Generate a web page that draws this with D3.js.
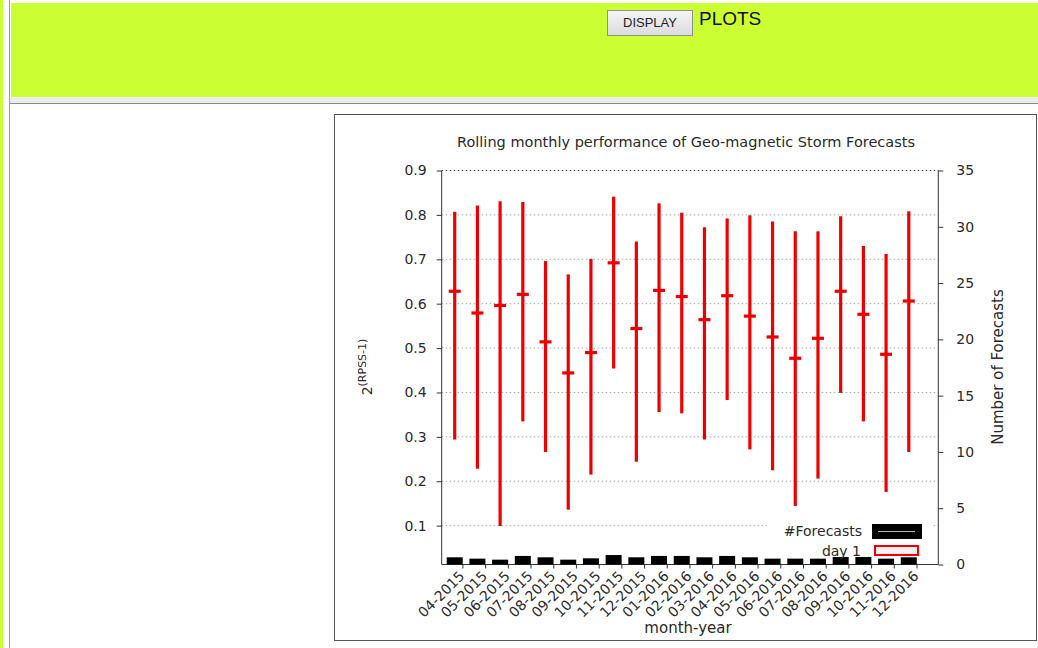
<!DOCTYPE html>
<html>
<head>
<meta charset="utf-8">
<script src="https://cdn.jsdelivr.net/npm/d3@7"></script>
<style>
  html, body { margin: 0; padding: 0; background: #fff; width: 1038px; height: 648px; overflow: hidden; }
  .strip { position: absolute; left: 0; top: 0; width: 3px; height: 648px; background: #ccff33; }
  .vline { position: absolute; left: 9px; top: 0; width: 1px; height: 648px; background: #9a9a9a; }
  .header { position: absolute; left: 11px; top: 3px; width: 1027px; height: 94px; background: #ccff33; }
  .sep { position: absolute; left: 10px; top: 97px; width: 1028px; height: 6px; background: #ececec; border-bottom: 1px solid #8a8a8a; }
  .btn { position: absolute; left: 607px; top: 10px; width: 86px; height: 26px; box-sizing: border-box;
         border: 1px solid #8f8f8f; background: linear-gradient(#f4f4f4, #dcdcdc);
         font-family: "Liberation Sans", Arial, sans-serif; font-size: 13px; color: #222;
         text-align: center; line-height: 24px; }
  .lbl { position: absolute; left: 699px; top: 8px; font-family: "Liberation Sans", Arial, sans-serif;
         font-size: 19px; color: #111; }
  svg { position: absolute; left: 0; top: 0; }
</style>
</head>
<body>
<div class="strip"></div>
<div class="vline"></div>
<div class="header"></div>
<div class="sep"></div>
<div class="btn">DISPLAY</div>
<div class="lbl">PLOTS</div>
<svg id="chart" width="1038" height="648"></svg>
<script>
// Monthly windows
const months = ["04-2015","05-2015","06-2015","07-2015","08-2015","09-2015","10-2015","11-2015","12-2015",
                "01-2016","02-2016","03-2016","04-2016","05-2016","06-2016","07-2016","08-2016","09-2016",
                "10-2016","11-2016","12-2016"];
// day 1 skill: mean with min / max range
const skillMean = [0.628,0.579,0.596,0.621,0.514,0.444,0.490,0.692,0.544,0.630,0.616,
                   0.564,0.618,0.572,0.525,0.477,0.522,0.628,0.576,0.486,0.606];
const skillLow  = [0.294,0.228,0.099,0.335,0.266,0.136,0.215,0.454,0.244,0.356,0.353,
                   0.294,0.383,0.272,0.225,0.144,0.206,0.399,0.335,0.176,0.266];
const skillHigh = [0.807,0.821,0.831,0.829,0.696,0.666,0.701,0.841,0.740,0.826,0.805,
                   0.772,0.792,0.799,0.785,0.763,0.763,0.797,0.730,0.712,0.808];
// number of forecasts (right axis)
const forecasts = [0.64,0.52,0.43,0.76,0.64,0.43,0.55,0.84,0.64,0.76,0.76,
                   0.64,0.76,0.64,0.52,0.52,0.52,0.76,0.76,0.52,0.64];
const leftTicks  = [0.1,0.2,0.3,0.4,0.5,0.6,0.7,0.8,0.9];
const rightTicks = [0,5,10,15,20,25,30,35];

const svg = d3.select("#chart");
const FONT = "'DejaVu Sans', Verdana, sans-serif";
const RED = "#ee0000";
const INK = "#2a2a2a";

// outer frame of the plot image
svg.append("rect").attr("x", 334.5).attr("y", 114.5).attr("width", 702).attr("height", 526)
  .attr("fill", "#fff").attr("stroke", "#555").attr("stroke-width", 1);

const L = 441.7, R = 938.3, T = 170.5, B = 564.5;
const x  = d3.scaleLinear().domain([-0.573, 21.30]).range([L, R]);
const y  = d3.scaleLinear().domain([0.0125, 0.9]).range([B, T]);
const y2 = d3.scaleLinear().domain([0, 35]).range([B, T]);

// title
svg.append("text").attr("x", 686).attr("y", 146.5).attr("text-anchor", "middle")
  .attr("font-family", FONT).attr("font-size", 14.5).attr("fill", INK)
  .text("Rolling monthly performance of Geo-magnetic Storm Forecasts");

// horizontal grid
svg.append("g").selectAll("line").data(leftTicks).join("line")
  .attr("x1", L).attr("x2", R).attr("y1", d => y(d)).attr("y2", d => y(d))
  .attr("stroke", d => d === 0.9 ? "#444" : "#a8a8a8")
  .attr("stroke-width", 1).attr("stroke-dasharray", "1.5,2.5");

// left axis
const gL = svg.append("g").attr("transform", `translate(${L},0)`)
  .call(d3.axisLeft(y).tickValues(leftTicks).tickFormat(d3.format(".1f")).tickSize(5).tickPadding(10));
// right axis
const gR = svg.append("g").attr("transform", `translate(${R},0)`)
  .call(d3.axisRight(y2).tickValues(rightTicks).tickSize(5).tickPadding(13));
// bottom axis: ticks sit just right of each box
const tickPos = months.map((m, i) => i + 0.34);
const gB = svg.append("g").attr("transform", `translate(0,${B})`)
  .call(d3.axisBottom(x).tickValues(tickPos).tickFormat((d, i) => months[i]).tickSize(4).tickPadding(3));

[gL, gR, gB].forEach(g => {
  g.select(".domain").attr("stroke", "#333");
  g.selectAll(".tick line").attr("stroke", "#333");
  g.selectAll("text").attr("font-family", FONT).attr("font-size", 14).attr("fill", INK);
});
gB.select(".domain").attr("d", `M${L},0H${R}`);
gL.select(".domain").attr("d", `M0,${B}V${T}`);
gR.select(".domain").attr("d", `M0,${B}V${T}`);
gB.selectAll("text").attr("text-anchor", "end").attr("dy", "0.35em")
  .attr("transform", "translate(-1,9) rotate(-45)").attr("x", 0).attr("y", 0);

// forecast count boxes
svg.append("g").selectAll("rect").data(forecasts).join("rect")
  .attr("x", (d, i) => x(i) - 8).attr("width", 16)
  .attr("y", d => y2(d)).attr("height", d => y2(0) - y2(d))
  .attr("fill", "#000");

// error bars
const eb = svg.append("g").attr("stroke", RED).attr("stroke-width", 3.2);
eb.selectAll("line.v").data(months).join("line").attr("class", "v")
  .attr("x1", (d, i) => x(i)).attr("x2", (d, i) => x(i))
  .attr("y1", (d, i) => y(skillLow[i])).attr("y2", (d, i) => y(skillHigh[i]));
eb.selectAll("line.m").data(months).join("line").attr("class", "m")
  .attr("x1", (d, i) => x(i) - 6).attr("x2", (d, i) => x(i) + 6)
  .attr("y1", (d, i) => y(skillMean[i])).attr("y2", (d, i) => y(skillMean[i]));

// legend
const lg = svg.append("g");
lg.append("rect").attr("x", 767).attr("y", 518).attr("width", 166).attr("height", 39).attr("fill", "#fff");
lg.append("text").attr("x", 862).attr("y", 536).attr("text-anchor", "end")
  .attr("font-family", FONT).attr("font-size", 14).attr("fill", INK).text("#Forecasts");
lg.append("rect").attr("x", 872).attr("y", 524).attr("width", 50).attr("height", 15).attr("fill", "#000");
lg.append("line").attr("x1", 878).attr("x2", 915).attr("y1", 531.5).attr("y2", 531.5)
  .attr("stroke", "#bbb").attr("stroke-width", 1);
lg.append("text").attr("x", 861).attr("y", 555.5).attr("text-anchor", "end")
  .attr("font-family", FONT).attr("font-size", 14).attr("fill", INK).text("day 1");
lg.append("rect").attr("x", 875).attr("y", 546).attr("width", 43).attr("height", 9)
  .attr("fill", "#fbeeee").attr("stroke", RED).attr("stroke-width", 2);

// axis titles
const yl = svg.append("text").attr("transform", "translate(372,367) rotate(-90)")
  .attr("text-anchor", "middle").attr("font-family", FONT).attr("font-size", 14).attr("fill", INK);
yl.append("tspan").text("2");
yl.append("tspan").attr("dy", -6).attr("font-size", 11).text("(RPSS-1)");

svg.append("text").attr("transform", "translate(1003,367) rotate(-90)")
  .attr("text-anchor", "middle").attr("font-family", FONT).attr("font-size", 15).attr("fill", INK)
  .text("Number of Forecasts");

svg.append("text").attr("x", 688).attr("y", 633).attr("text-anchor", "middle")
  .attr("font-family", FONT).attr("font-size", 15).attr("fill", INK).text("month-year");
</script>
</body>
</html>
